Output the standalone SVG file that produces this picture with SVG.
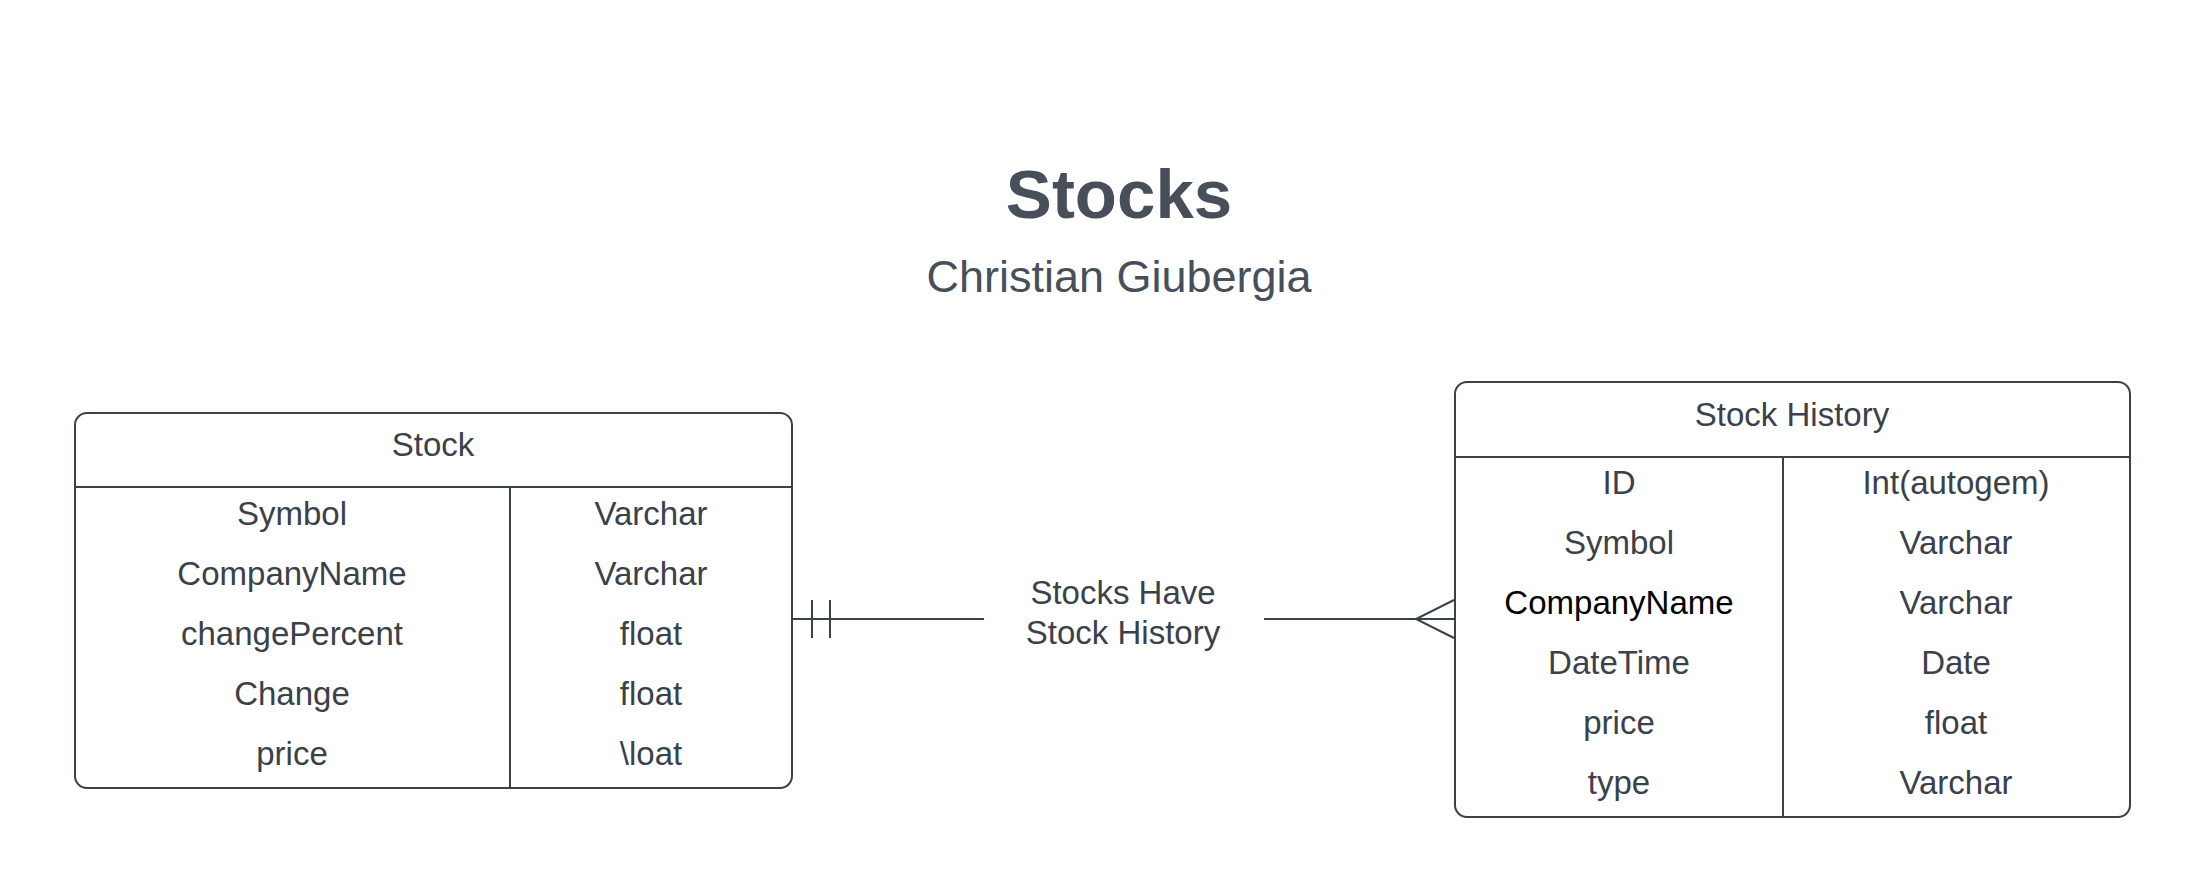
<svg xmlns="http://www.w3.org/2000/svg" width="2205" height="893" viewBox="0 0 2205 893">
<style>
  .t { font-family: "Liberation Sans", Arial, sans-serif; font-size: 33px; fill: #3a414a; text-anchor: middle; }
  .blk { fill: #000000; }
  .box { fill: #ffffff; stroke: #3a414a; stroke-width: 2; }
  .ln { stroke: #3a414a; stroke-width: 2; fill: none; }
  .title { font-family: "Liberation Sans", Arial, sans-serif; font-size: 69px; font-weight: bold; fill: #474f5a; text-anchor: middle; }
  .sub { font-family: "Liberation Sans", Arial, sans-serif; font-size: 45px; fill: #474f5a; text-anchor: middle; }
</style>
<rect width="2205" height="893" fill="#ffffff"/>
<g id="title">
  <text class="title" x="1119" y="218">Stocks</text>
  <text class="sub" x="1119" y="292">Christian Giubergia</text>
</g>
<g id="connectors">
  <line class="ln" x1="792" y1="619" x2="984" y2="619"/>
  <line class="ln" x1="812" y1="600" x2="812" y2="638"/>
  <line class="ln" x1="830" y1="600" x2="830" y2="638"/>
  <line class="ln" x1="1264" y1="619" x2="1454" y2="619"/>
  <polyline class="ln" points="1454,600 1416,619 1454,638"/>
  <text class="t" x="1123" y="604">Stocks Have</text>
  <text class="t" x="1123" y="644">Stock History</text>
</g>
<g id="stock">
  <rect class="box" x="75" y="413" width="717" height="375" rx="12"/>
  <line class="ln" x1="75" y1="487" x2="792" y2="487"/>
  <line class="ln" x1="510" y1="487" x2="510" y2="788"/>
  <text class="t" x="433" y="456">Stock</text>
  <text class="t" x="292" y="525">Symbol</text>
  <text class="t" x="292" y="585">CompanyName</text>
  <text class="t" x="292" y="645">changePercent</text>
  <text class="t" x="292" y="705">Change</text>
  <text class="t" x="292" y="765">price</text>
  <text class="t" x="651" y="525">Varchar</text>
  <text class="t" x="651" y="585">Varchar</text>
  <text class="t" x="651" y="645">float</text>
  <text class="t" x="651" y="705">float</text>
  <text class="t" x="651" y="765">\loat</text>
</g>
<g id="stock-history">
  <rect class="box" x="1455" y="382" width="675" height="435" rx="12"/>
  <line class="ln" x1="1455" y1="457" x2="2130" y2="457"/>
  <line class="ln" x1="1783" y1="457" x2="1783" y2="817"/>
  <text class="t" x="1792" y="426">Stock History</text>
  <text class="t" x="1619" y="494">ID</text>
  <text class="t" x="1619" y="554">Symbol</text>
  <text class="t blk" x="1619" y="614">CompanyName</text>
  <text class="t" x="1619" y="674">DateTime</text>
  <text class="t" x="1619" y="734">price</text>
  <text class="t" x="1619" y="794">type</text>
  <text class="t" x="1956" y="494">Int(autogem)</text>
  <text class="t" x="1956" y="554">Varchar</text>
  <text class="t" x="1956" y="614">Varchar</text>
  <text class="t" x="1956" y="674">Date</text>
  <text class="t" x="1956" y="734">float</text>
  <text class="t" x="1956" y="794">Varchar</text>
</g>
</svg>
